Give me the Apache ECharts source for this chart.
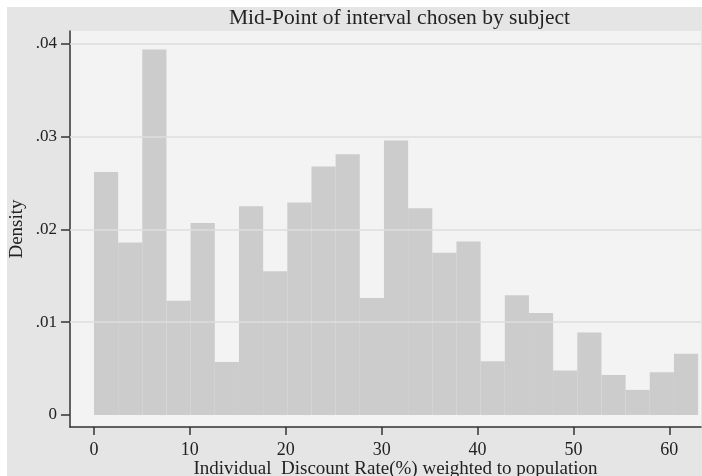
<!DOCTYPE html>
<html>
<head>
<meta charset="utf-8">
<script src="https://cdn.jsdelivr.net/npm/echarts@6/dist/echarts.min.js"></script>
<style>html,body{margin:0;padding:0;background:#ffffff;}#c{width:702px;height:476px;}</style>
</head>
<body>
<div id="c"></div>
<script>
var binStart = 0;
var binWidth = 2.52;
var density = [0.0262, 0.0186, 0.0394, 0.0123, 0.0207, 0.0057, 0.0225, 0.0155, 0.0229, 0.0268,
               0.0281, 0.0126, 0.0296, 0.0223, 0.0175, 0.0187, 0.0058, 0.0129, 0.0110, 0.0048,
               0.0089, 0.0043, 0.0027, 0.0046, 0.0066];
var xTicks = [0, 10, 20, 30, 40, 50, 60];
var yTicks = [0, 0.01, 0.02, 0.03, 0.04];
var yTickLabels = ['0', '.01', '.02', '.03', '.04'];
var titleText = 'Mid-Point of interval chosen by subject';
var xName = 'Individual  Discount Rate(%) weighted to population';
var yName = 'Density';

var bins = density.map(function (d, i) {
  return [binStart + i * binWidth, binStart + (i + 1) * binWidth, d];
});
var serif = '"Liberation Serif", "DejaVu Serif", serif';

var chart = echarts.init(document.getElementById('c'));
chart.setOption({
  backgroundColor: '#e5e5e5',
  animation: false,
  graphic: [{
    type: 'rect', silent: true, z: 100,
    shape: { x: 0, y: 0, width: 702, height: 7 },
    style: { fill: '#ffffff' }
  }, {
    type: 'rect', silent: true, z: 100,
    shape: { x: 0, y: 0, width: 7, height: 476 },
    style: { fill: '#ffffff' }
  }],
  title: {
    text: titleText, left: 229, top: 7, padding: 0,
    textStyle: { fontFamily: serif, fontWeight: 'normal', fontSize: 21.5, color: '#222' }
  },
  grid: {
    left: 70, right: 1, top: 31, bottom: 49, show: true,
    backgroundColor: '#f3f3f3', borderWidth: 0,
    outerBoundsMode: 'none', containLabel: false
  },
  xAxis: {
    type: 'value', min: -2.5, max: 63.3,
    name: xName, nameLocation: 'middle', nameGap: 32.5, nameMoveOverlap: false,
    nameTextStyle: { fontFamily: serif, fontSize: 19, color: '#222', padding: [0, 0, 0, 20] },
    axisLine: { show: true, onZero: false, lineStyle: { color: '#333', width: 1.5 } },
    axisTick: { show: true, length: 8, customValues: xTicks, lineStyle: { color: '#333', width: 1.5 } },
    axisLabel: { customValues: xTicks, fontFamily: serif, fontSize: 18, color: '#222', margin: 14 },
    splitLine: { show: false }
  },
  yAxis: {
    type: 'value', min: -0.0013, max: 0.0414,
    name: yName, nameLocation: 'middle', nameGap: 43, nameMoveOverlap: false,
    nameTextStyle: { fontFamily: serif, fontSize: 19, color: '#222' },
    axisLine: { show: true, onZero: false, lineStyle: { color: '#333', width: 1.5 } },
    axisTick: { show: true, length: 9, customValues: yTicks, lineStyle: { color: '#333', width: 1.5 } },
    axisLabel: {
      customValues: yTicks, fontFamily: serif, fontSize: 17, color: '#222', margin: 13,
      formatter: function (v) {
        var i = yTicks.findIndex(function (t) { return Math.abs(t - v) < 1e-9; });
        return i >= 0 ? yTickLabels[i] : '';
      }
    },
    splitLine: { show: false }
  },
  series: [{
    type: 'line',
    data: [],
    z: 3,
    markLine: {
      silent: true, symbol: 'none',
      label: { show: false },
      lineStyle: { color: '#dedede', type: 'solid', width: 1.5 },
      data: yTicks.slice(1).map(function (t) { return { yAxis: t }; })
    }
  }, {
    type: 'custom',
    data: bins,
    encode: { x: [0, 1], y: 2 },
    z: 4,
    renderItem: function (params, api) {
      var p0 = api.coord([api.value(0), api.value(2)]);
      var p1 = api.coord([api.value(1), 0]);
      return {
        type: 'rect',
        shape: { x: p0[0], y: p0[1], width: p1[0] - p0[0], height: p1[1] - p0[1] },
        style: { fill: '#cccccc', stroke: null }
      };
    }
  }]
});
</script>
</body>
</html>
